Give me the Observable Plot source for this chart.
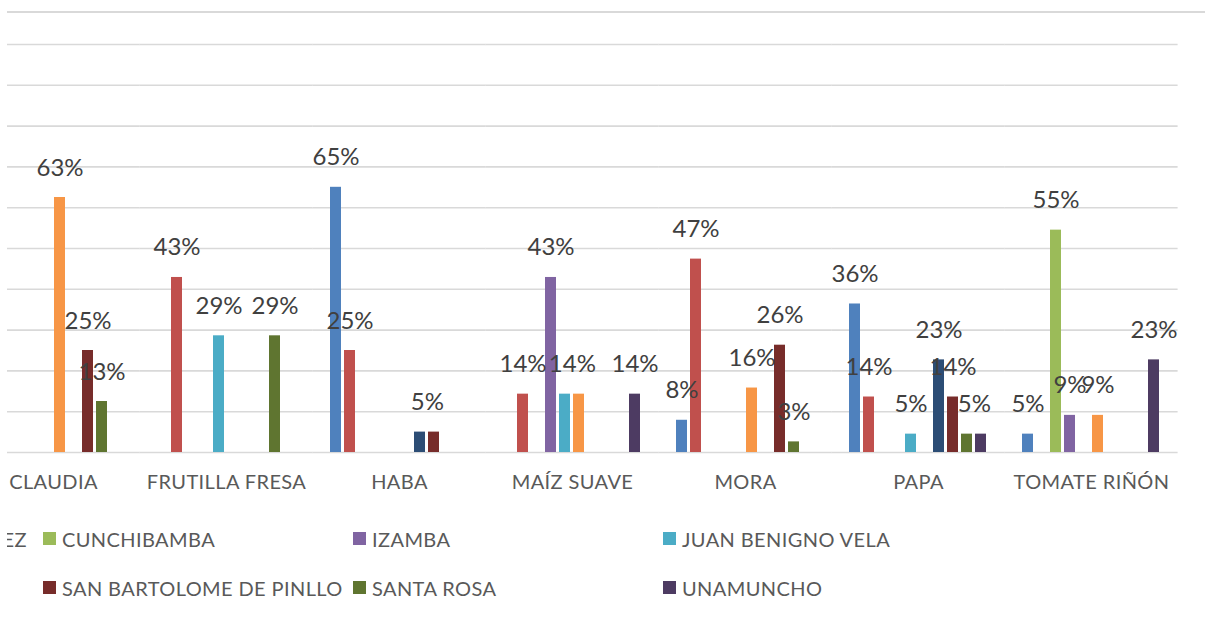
<!DOCTYPE html>
<html>
<head>
<meta charset="utf-8">
<script src="https://cdn.jsdelivr.net/npm/d3@7"></script>
<script src="https://cdn.jsdelivr.net/npm/@observablehq/plot@0.6"></script>
<style>
  html, body { margin: 0; padding: 0; background: #fff; width: 1205px; height: 619px; overflow: hidden; }
  #clip { position: absolute; left: 7px; top: 0; width: 1198px; height: 619px; overflow: hidden; }
  #topline { position: absolute; left: 0; top: 11px; width: 1198px; height: 0; border-top: 2px solid #d9d9d9; }
  #chart { position: absolute; left: -41px; top: 0; }
  #chart svg g[aria-label="fx-axis tick label"] text { letter-spacing: 0.4px; }
  #legend { position: absolute; left: -584px; top: 514px; display: grid;
            grid-template-columns: repeat(5, 310px); grid-auto-rows: 49px; }
  .item { display: flex; align-items: center; font-family: Lato, sans-serif; font-size: 20px;
          letter-spacing: 0.4px; color: #595959; white-space: nowrap; }
  .sw { width: 13px; height: 13px; margin-right: 6px; flex: none; }
</style>
</head>
<body>
<div id="clip">
  <div id="topline"></div>
  <div id="chart"></div>
  <div id="legend"></div>
</div>
<script>
const categories = ["CLAUDIA", "FRUTILLA FRESA", "HABA", "MAÍZ SUAVE", "MORA", "PAPA", "TOMATE RIÑÓN"];
const parishes = ["AUGUSTO N. MARTINEZ", "CONSTANTINO FERNANDEZ", "CUNCHIBAMBA", "IZAMBA", "JUAN BENIGNO VELA",
                  "PILAHUIN", "QUISAPINCHA", "SAN BARTOLOME DE PINLLO", "SANTA ROSA", "UNAMUNCHO"];
const colors = ["#4F81BD", "#C0504D", "#9BBB59", "#8064A2", "#4BACC6",
                "#F79646", "#2C4D75", "#772C2A", "#5F7530", "#4D3B62"];

// percent values per parish, in the order of categories
const augusto      = [0,    0,    65, 0,    7.9,  36.4, 4.5];
const constantino  = [0,    42.9, 25, 14.3, 47.4, 13.6, 0];
const cunchibamba  = [0,    0,    0,  0,    0,    0,    54.5];
const izamba       = [0,    0,    0,  42.9, 0,    0,    9.1];
const juanBenigno  = [0,    28.6, 0,  14.3, 0,    4.5,  0];
const pilahuin     = [62.5, 0,    0,  14.3, 15.8, 0,    9.1];
const quisapincha  = [0,    0,    5,  0,    0,    22.7, 0];
const sanBartolome = [25,   0,    5,  0,    26.3, 13.6, 0];
const santaRosa    = [12.5, 28.6, 0,  0,    2.6,  4.5,  0];
const unamuncho    = [0,    0,    0,  14.3, 0,    4.5,  22.7];
const series = [augusto, constantino, cunchibamba, izamba, juanBenigno,
                pilahuin, quisapincha, sanBartolome, santaRosa, unamuncho];
const yTicks = [0, 10, 20, 30, 40, 50, 60, 70, 80, 90, 100];

const rows = [];
categories.forEach((c, ci) => series.forEach((s, si) => {
  if (s[ci] > 0) rows.push({category: c, parish: parishes[si], si, value: s[ci]});
}));

// adjacent bars with the same rounded value share one label
const single = [], merged = [];
categories.forEach((c, ci) => {
  for (let si = 0; si < series.length; si++) {
    const v = series[si][ci];
    if (!(v > 0)) continue;
    const n = si + 1 < series.length ? series[si + 1][ci] : 0;
    const d = {category: c, parish: parishes[si], value: v};
    if (n > 0 && Math.round(n) === Math.round(v)) { merged.push(d); si++; }
    else single.push(d);
  }
});
const fmt = d => Math.round(d.value) + "%";

const chart = Plot.plot({
  width: 1212, height: 520,
  marginTop: 44, marginBottom: 68, marginLeft: 0, marginRight: 0,
  style: {fontFamily: "Lato, sans-serif", background: "transparent", overflow: "visible"},
  fx: {domain: categories, paddingInner: 0.145, paddingOuter: 0.0725, axis: null, label: null},
  x: {domain: parishes, paddingInner: 0.2, paddingOuter: 0.1, axis: null},
  y: {domain: [0, 100], axis: null},
  color: {domain: parishes, range: colors},
  marks: [
    Plot.ruleY(yTicks, {stroke: "#d9d9d9", strokeWidth: 1.6, insetLeft: -12.6, insetRight: -12.6}),
    Plot.barY(rows, {fx: "category", x: "parish", y: "value", fill: "parish"}),
    Plot.text(single, {fx: "category", x: "parish", y: "value", text: fmt, dy: -22,
                       lineAnchor: "bottom", fontSize: 24, fill: "#404040"}),
    Plot.text(merged, {fx: "category", x: "parish", y: "value", text: fmt, dx: 7.4, dy: -22,
                       lineAnchor: "bottom", fontSize: 24, fill: "#404040"}),
    Plot.axisFx({anchor: "bottom", tickSize: 0, tickPadding: 22, fontSize: 20, fill: "#595959", label: null})
  ]
});
document.getElementById("chart").appendChild(chart);

const legend = d3.select("#legend");
parishes.forEach((p, i) => {
  const it = legend.append("div").attr("class", "item");
  it.append("div").attr("class", "sw").style("background", colors[i]);
  it.append("span").text(p);
});
</script>
</body>
</html>
